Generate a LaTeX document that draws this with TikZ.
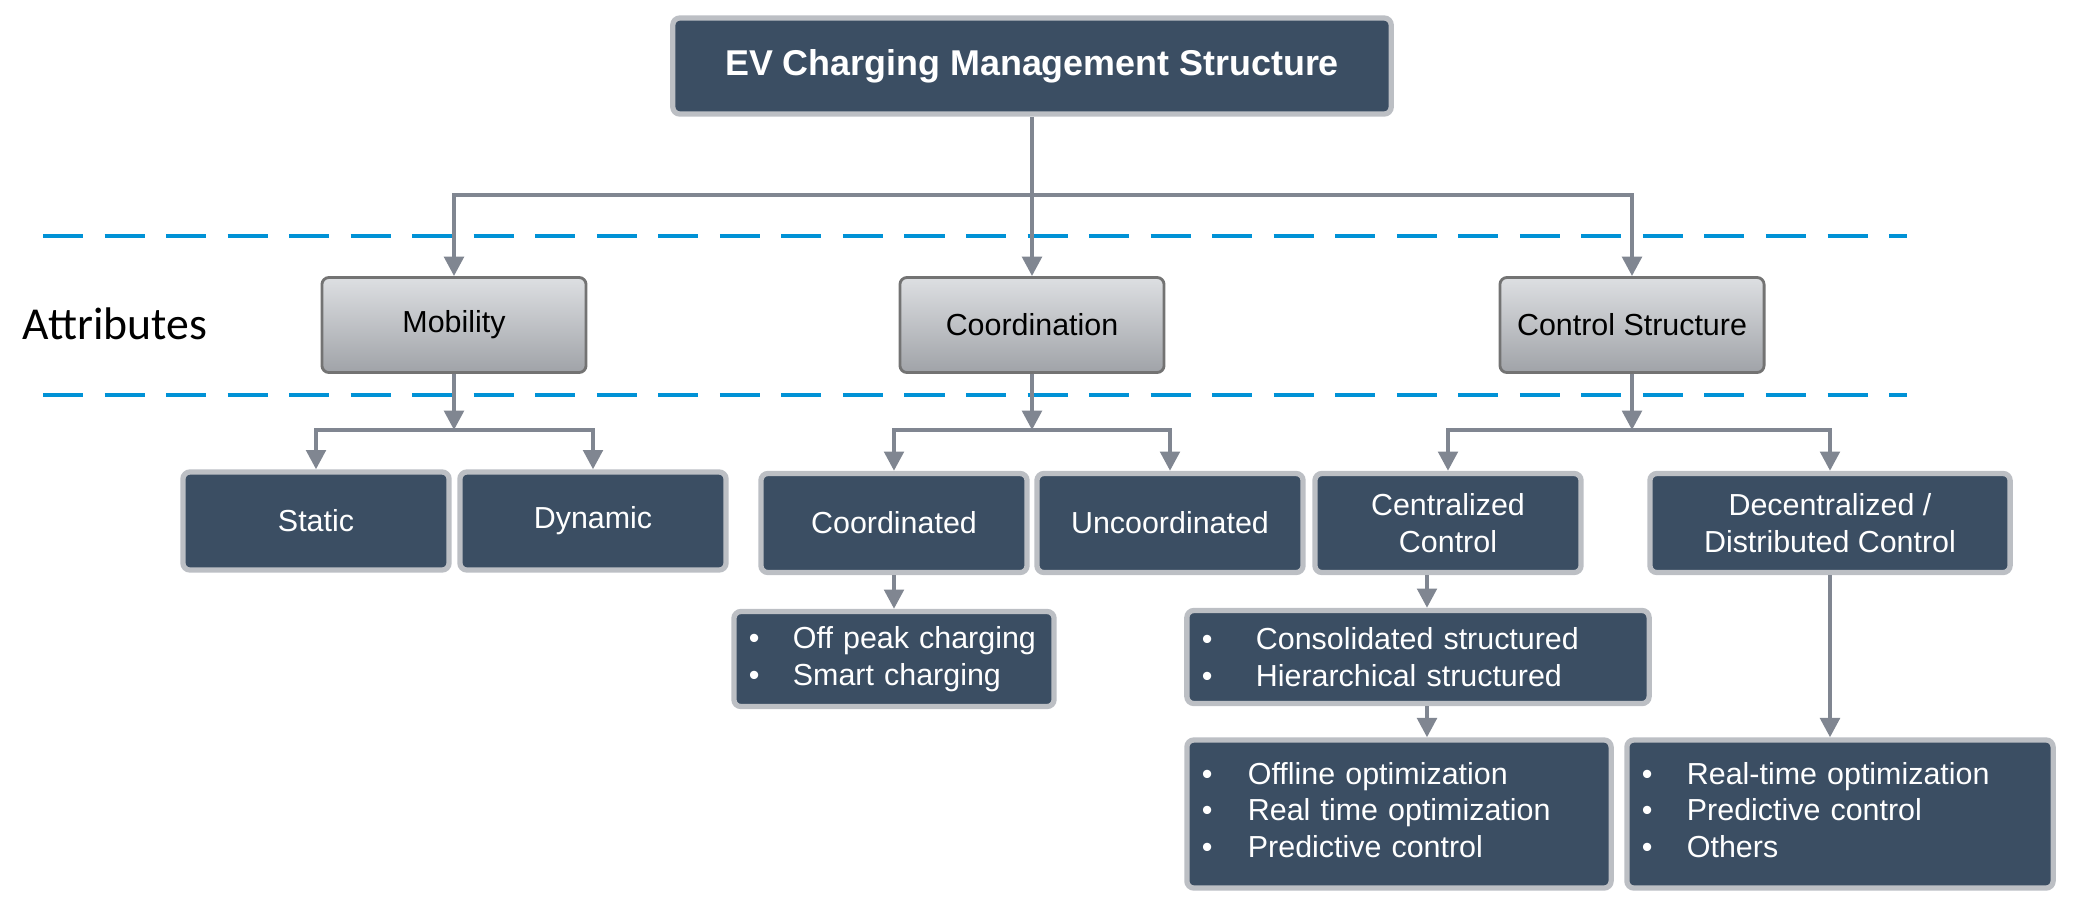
\documentclass[tikz,border=0pt]{standalone}
\usepackage{fontspec}
\setmainfont{Liberation Sans}
\newfontfamily\attrfont{Carlito}
\usetikzlibrary{arrows.meta}

\definecolor{boxblue}{RGB}{59,78,99}
\definecolor{rimgray}{RGB}{188,191,196}
\definecolor{linkgray}{RGB}{128,134,145}
\definecolor{dashblue}{RGB}{0,146,214}
\definecolor{attrtop}{RGB}{221,223,226}
\definecolor{attrbot}{RGB}{160,163,168}

\newcommand{\listitem}[2][0.45cm]{\makebox[#1][l]{\textbullet}#2}

\tikzset{
    darkbox/.style={draw=rimgray, line width=1.5pt, fill=boxblue, rounded corners=2pt,
        text=white, align=center, inner sep=0pt,
        font=\fontsize{8.65}{10.5}\selectfont},
    listbox/.style={darkbox, align=left, inner xsep=0.15cm},
    attrbox/.style={draw=black!55, line width=0.8pt, top color=attrtop, bottom color=attrbot,
        rounded corners=2pt, minimum width=2.64cm, minimum height=0.95cm,
        font=\fontsize{8.65}{10.5}\selectfont},
    link/.style={draw=linkgray, line width=1.2pt, -{Triangle[length=5.5pt,width=5.5pt]}},
    level/.style={draw=dashblue, line width=1pt, dash pattern=on 0.40cm off 0.215cm}
}

\begin{document}
\begin{tikzpicture}[x=0.01cm, y=-0.01cm]
        \useasboundingbox (0,0) rectangle (2075,908);

        % attribute band
        \draw[level] (43,236) -- (1907,236);
        \draw[level] (43,395) -- (1907,395);

        \node[darkbox, font=\bfseries\fontsize{10.2}{12}\selectfont,
            minimum width=7.18cm, minimum height=0.96cm] (ev) at (1032,66) {EV Charging Management Structure};

        \node[font=\attrfont\fontsize{13}{15}\selectfont] (attr) at (115,324) {Attributes};
        \node[attrbox] (mob) at (454,325) {Mobility};
        \node[attrbox] (coord) at (1032,325) {Coordination};
        \node[attrbox] (ctrl) at (1632,325) {Control Structure};

        \node[darkbox, minimum width=2.66cm, minimum height=0.98cm] (static) at (316,521) {Static};
        \node[darkbox, minimum width=2.66cm, minimum height=0.98cm] (dynamic) at (593,521) {Dynamic};
        \node[darkbox, minimum width=2.66cm, minimum height=0.99cm] (coordd) at (894,523) {Coordinated};
        \node[darkbox, minimum width=2.66cm, minimum height=0.99cm] (uncoord) at (1170,523) {Uncoordinated};
        \node[darkbox, minimum width=2.66cm, minimum height=0.99cm] (central) at (1448,523) {Centralized\\Control};
        \node[darkbox, minimum width=3.6cm, minimum height=0.99cm] (decentral) at (1830,523) {Decentralized /\\Distributed Control};

        \node[listbox, text width=2.9cm, minimum height=0.95cm] (offpeak) at (894,659)
            {\listitem[0.44cm]{Off peak charging}\\\listitem[0.44cm]{Smart charging}};
        \node[listbox, text width=4.32cm, minimum height=0.93cm] (consol) at (1418,657)
            {\listitem[0.54cm]{Consolidated structured}\\\listitem[0.54cm]{Hierarchical structured}};
        \node[listbox, text width=3.94cm, text height=0.44cm, text depth=1.04cm] (offline) at (1399,814)
            {\listitem[0.46cm]{Offline optimization}\\\listitem[0.46cm]{Real time optimization}\\\listitem[0.46cm]{Predictive control}};
        \node[listbox, text width=3.96cm, text height=0.44cm, text depth=1.04cm] (realtime) at (1840,814)
            {\listitem{Real-time optimization}\\\listitem{Predictive control}\\\listitem{Others}};

        \coordinate (top) at (1032,195);
        \coordinate (mobjoin) at (454,430);
        \coordinate (coordjoin) at (1032,430);
        \coordinate (ctrljoin) at (1632,430);
        \coordinate (cdrop) at (1427,0);

        \draw[link] (ev) -- (coord);
        \draw[link] (top) -| (mob);
        \draw[link] (top) -| (ctrl);

        \draw[link] (mob) -- (mobjoin);
        \draw[link] (mobjoin) -| (static);
        \draw[link] (mobjoin) -| (dynamic);
        \draw[link] (coord) -- (coordjoin);
        \draw[link] (coordjoin) -| (coordd);
        \draw[link] (coordjoin) -| (uncoord);
        \draw[link] (ctrl) -- (ctrljoin);
        \draw[link] (ctrljoin) -| (central);
        \draw[link] (ctrljoin) -| (decentral);

        \draw[link] (coordd) -- (offpeak);
        \draw[link] (central.south -| cdrop) -- (consol.north -| cdrop);
        \draw[link] (consol.south -| cdrop) -- (offline.north -| cdrop);
        \draw[link] (decentral.south) -- (decentral.south |- realtime.north);
    \end{tikzpicture}
\end{document}
